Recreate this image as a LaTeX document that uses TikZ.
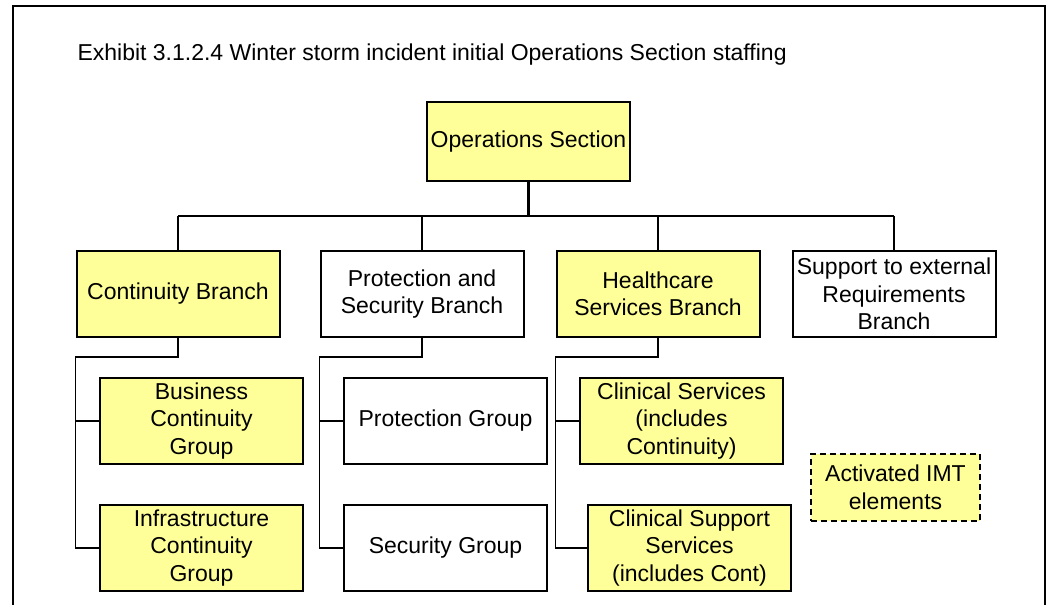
\documentclass[tikz,border=0pt]{standalone}
\usepackage{fontspec}
\setmainfont{Liberation Sans}
\usetikzlibrary{positioning}
\definecolor{actyellow}{HTML}{FFFF99}

\begin{document}
\begin{tikzpicture}[
    x=1pt,y=1pt,
    font=\fontsize{23}{27.5}\selectfont,
    unit/.style={rectangle,draw,line width=2pt,align=center,minimum width=203pt,minimum height=86pt,inner sep=0pt},
    act/.style={unit,fill=actyellow},
    link/.style={line width=1.8pt}
]
\useasboundingbox (0,0) rectangle (1052,-605);
\draw[line width=2.6pt] (13,-605) -- (13,-6) -- (1045,-6) -- (1045,-605);
\node[anchor=base west] (title) at (74,-60) {Exhibit 3.1.2.4 Winter storm incident initial Operations Section staffing};

\node[act,minimum height=79pt] (ops) at (528.5,-141.5) {Operations Section};
\coordinate[below=34pt of ops] (bus);

\node[act] (cont) at (178,-294) {Continuity Branch};
\node[unit,right=39pt of cont] (prot) {Protection and\\Security Branch};
\node[act,right=31pt of prot] (hc) {Healthcare\\Services Branch};
\node[unit,right=31pt of hc] (sup) {Support to external\\Requirements\\Branch};

\node[act,below=39pt of cont,xshift=23.5pt] (bcg) {Business\\Continuity\\Group};
\node[act,below=39pt of bcg] (icg) {Infrastructure\\Continuity\\Group};
\node[unit,below=39pt of prot,xshift=23.5pt] (pg) {Protection Group};
\node[unit,below=39pt of pg] (sg) {Security Group};
\node[act,below=39pt of hc,xshift=23.5pt] (cs) {Clinical Services\\(includes\\Continuity)};
\node[act,below=39pt of cs,xshift=8pt] (css) {Clinical Support\\Services\\(includes Cont)};

\node[act,dashed,dash pattern=on 6pt off 4pt,line width=1.8pt,minimum width=169pt,minimum height=67pt] (imt) at (895.5,-487.5) {Activated IMT\\elements};

\draw[line width=3pt] (ops) -- (bus);
\draw[link] (cont.north |- bus) -- (sup.north |- bus);
\foreach \b in {cont,prot,hc,sup}
    \draw[link] (\b.north) -- (\b.north |- bus);
\foreach \b/\g/\h in {cont/bcg/icg,prot/pg/sg,hc/cs/css} {
    \draw[link] (\b.south) -- ++(0,-19) -| (\b.west |- \h.west) -- (\h.west);
    \draw[link] (\b.west |- \g.west) -- (\g.west);
}
\end{tikzpicture}
\end{document}
